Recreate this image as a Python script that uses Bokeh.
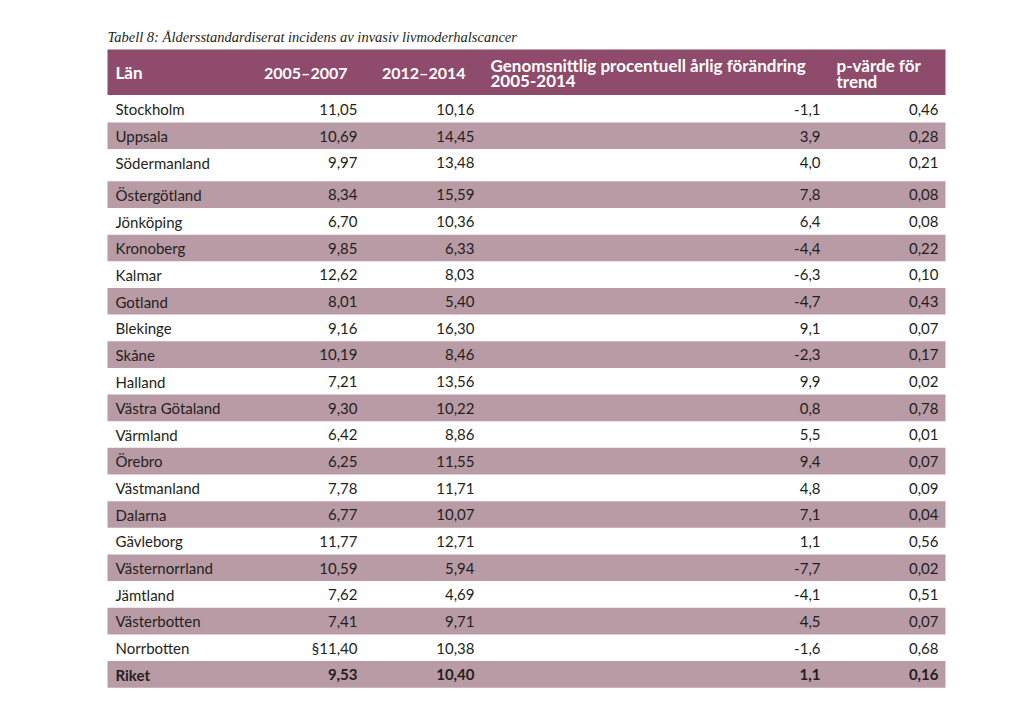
from bokeh.plotting import figure
from bokeh.models import ColumnDataSource, Range1d
from bokeh.core.properties import value
from bokeh.embed import file_html
from bokeh.resources import INLINE

# ---------------- data ----------------
title = "Tabell 8: Åldersstandardiserat incidens av invasiv livmoderhalscancer"
lan = ["Stockholm", "Uppsala", "Södermanland", "Östergötland", "Jönköping",
       "Kronoberg", "Kalmar", "Gotland", "Blekinge", "Skåne", "Halland",
       "Västra Götaland", "Värmland", "Örebro", "Västmanland", "Dalarna",
       "Gävleborg", "Västernorrland", "Jämtland", "Västerbotten", "Norrbotten",
       "Riket"]
inc_2005_2007 = [11.05, 10.69, 9.97, 8.34, 6.70, 9.85, 12.62, 8.01, 9.16, 10.19,
                 7.21, 9.30, 6.42, 6.25, 7.78, 6.77, 11.77, 10.59, 7.62, 7.41,
                 11.40, 9.53]
marks_2005_2007 = [""] * 20 + ["§", ""]
inc_2012_2014 = [10.16, 14.45, 13.48, 15.59, 10.36, 6.33, 8.03, 5.40, 16.30, 8.46,
                 13.56, 10.22, 8.86, 11.55, 11.71, 10.07, 12.71, 5.94, 4.69, 9.71,
                 10.38, 10.40]
arlig_forandring = [-1.1, 3.9, 4.0, 7.8, 6.4, -4.4, -6.3, -4.7, 9.1, -2.3, 9.9,
                    0.8, 5.5, 9.4, 4.8, 7.1, 1.1, -7.7, -4.1, 4.5, -1.6, 1.1]
p_varde = [0.46, 0.28, 0.21, 0.08, 0.08, 0.22, 0.10, 0.43, 0.07, 0.17, 0.02,
           0.78, 0.01, 0.07, 0.09, 0.04, 0.56, 0.02, 0.51, 0.07, 0.68, 0.16]
header_lan = "Län"
header_p1 = "2005–2007"
header_p2 = "2012–2014"
header_change = ["Genomsnittlig procentuell årlig förändring", "2005-2014"]
header_p = ["p-värde för", "trend"]
total_label = "Riket"

# ---------------- layout / style ----------------
W, H = 1008, 695
OX, OY = 0, 0            # canvas sits at page origin
FONT = "Lato"
TXT = "#231f20"
HEAD_BG = "#8e4b6b"
STRIPE = "#b99ba5"

TL, TR = 107, 945        # table left / right
HEAD_TOP, HEAD_BOT = 49, 94.5
ROW_TOP, RH = 95.3, 26.65
GAP_AFTER, GAP = 2, 5.6  # extra white space after Södermanland

def fmt(v, nd):
    return f"{v:.{nd}f}".replace(".", ",")

n = len(lan)
tops, bots, mids = [], [], []
y = ROW_TOP
for i in range(n):
    tops.append(y)
    bots.append(y + RH)
    mids.append(y + RH / 2 + 0.3)
    y += RH
    if i == GAP_AFTER:
        y += GAP

p = figure(width=W, height=H, output_backend="svg", toolbar_location=None,
           x_range=Range1d(OX, OX + W), y_range=Range1d(OY + H, OY),
           min_border=0, tools="")
p.xaxis.visible = False
p.yaxis.visible = False
p.grid.visible = False
p.outline_line_color = None
p.background_fill_color = "white"
p.border_fill_color = "white"

# title
p.text(x=[TL], y=[36], text=[title], text_font=value("Liberation Serif"),
       text_font_style="italic", text_font_size="14.5px", text_color=TXT,
       text_align="left", text_baseline="middle")

# header band
p.quad(left=[TL], right=[TR], top=[HEAD_TOP], bottom=[HEAD_BOT],
       fill_color=HEAD_BG, line_color=None)

# stripes
st_idx = [i for i in range(n) if i % 2 == 1]
p.quad(left=[TL] * len(st_idx), right=[TR] * len(st_idx),
       top=[tops[i] for i in st_idx], bottom=[bots[i] for i in st_idx],
       fill_color=STRIPE, line_color=None)

# header texts
hkw = dict(text_font=value(FONT), text_font_style="bold",
           text_color="white", text_baseline="middle")
p.text(x=[115], y=[71.5], text=[header_lan], text_align="left",
       text_font_size="17px", **hkw)
p.text(x=[347, 465], y=[71.5, 71.5], text=[header_p1, header_p2],
       text_align="right", text_font_size="16px", **hkw)
p.text(x=[490, 490], y=[64.5, 80.5], text=header_change, text_align="left",
       text_font_size="17px", **hkw)
p.text(x=[836, 836], y=[64.5, 80.5], text=header_p, text_align="left",
       text_font_size="17px", **hkw)

# body
col1 = [m + fmt(v, 2) for m, v in zip(marks_2005_2007, inc_2005_2007)]
col2 = [fmt(v, 2) for v in inc_2012_2014]
col3 = [fmt(v, 1) for v in arlig_forandring]
col4 = [fmt(v, 2) for v in p_varde]
styles = ["bold" if name == total_label else "normal" for name in lan]

src = ColumnDataSource(dict(y=mids, lan=lan, c1=col1, c2=col2, c3=col3, c4=col4,
                            style=styles))
bkw = dict(source=src, text_font=value(FONT), text_font_size="15px",
           text_font_style="style", text_color=TXT, text_baseline="middle")
p.text(x=115, y="y", text="lan", text_align="left", **bkw)
p.text(x=357, y="y", text="c1", text_align="right", **bkw)
p.text(x=474, y="y", text="c2", text_align="right", **bkw)
p.text(x=820, y="y", text="c3", text_align="right", **bkw)
p.text(x=938, y="y", text="c4", text_align="right", **bkw)

open("out.html", "w").write(file_html(p, INLINE))
